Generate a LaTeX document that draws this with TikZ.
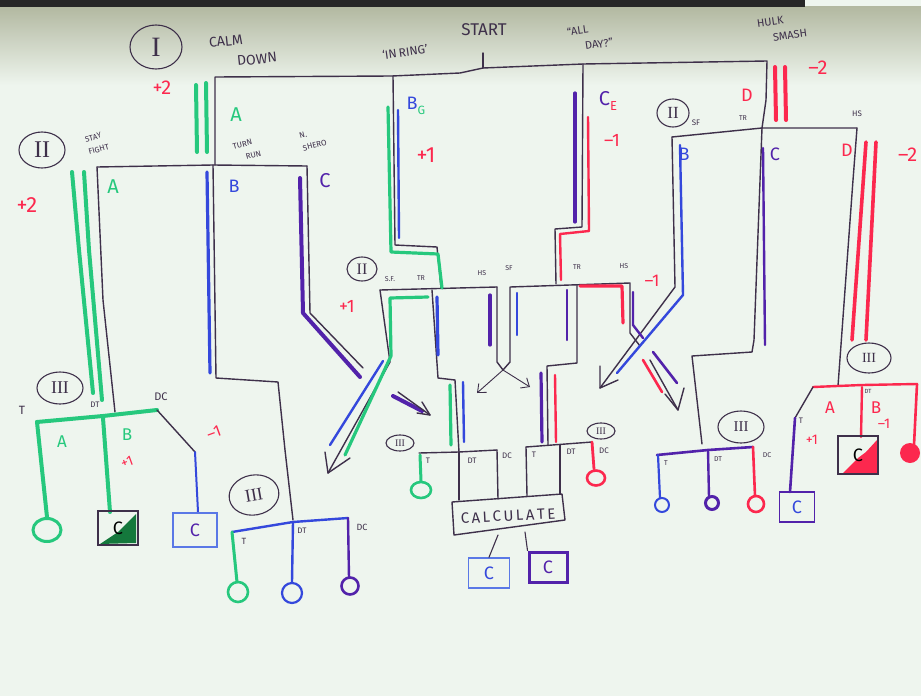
\documentclass[tikz,border=0pt]{standalone}
\usepackage{fontspec}
\setmainfont{Fira Sans}
\newfontfamily\romfont{Liberation Serif}
\usetikzlibrary{arrows.meta,shapes.geometric}
\definecolor{board}{RGB}{238,245,238}
\definecolor{shadow}{RGB}{178,184,160}
\definecolor{ink}{RGB}{62,48,74}
\definecolor{mgreen}{RGB}{38,200,125}
\definecolor{mblue}{RGB}{52,72,220}
\definecolor{mpurple}{RGB}{82,34,170}
\definecolor{mred}{RGB}{252,40,78}
\definecolor{dgreen}{RGB}{20,120,60}
\definecolor{lblue}{RGB}{90,120,230}
\tikzset{
  inkl/.style={draw=ink,line width=1.4pt,line join=round,line cap=round},
  thinarrow/.style={draw=ink,line width=0.9pt,-{Straight Barb[length=7pt,width=12pt]}},
  mk/.style={line width=3.2pt,line cap=round,line join=round},
  gl/.style={mk,draw=mgreen}, bl/.style={mk,draw=mblue},
  pl/.style={mk,draw=mpurple}, rl/.style={mk,draw=mred},
  fs/.style={inner sep=0pt,font=\fontsize{#1}{#1}\selectfont},
  two/.style={inner sep=0pt,align=left,text=ink},
  roman/.style={draw=ink,line width=1.1pt,ellipse,inner sep=0pt,text=ink},
  cbox/.style={line width=1.6pt,minimum width=38pt,minimum height=34pt,inner sep=0pt,font=\fontsize{18}{18}\selectfont}
}
\begin{document}
\begin{tikzpicture}[x=1pt,y=-1pt]
\useasboundingbox (0,0) rectangle (921,696);
\fill[board] (0,0) rectangle (921,696);
\shade[top color=shadow, bottom color=board] (0,6) rectangle (921,85);
\fill[black!85] (0,0) rectangle (805,7);

% ================= LEVEL I (ink) =================
\draw[inkl] (215,165) -- (215,77) -- (392,76) -- (460,73) -- (483,68) -- (583,64) -- (767,61) -- (766,100) -- (762,128);
\draw[inkl] (483,68) -- (483,53);
\draw[inkl] (393,76) -- (395,245) -- (437,247) -- (441,288);
\draw[inkl] (583,64) -- (582,227) -- (555,229) -- (556,284);

% ================= LEVEL II left (ink) =================
\draw[inkl] (97,167) -- (213,165) -- (307,166);
\draw[inkl] (97,167) -- (103,300) -- (115,412);
\draw[inkl] (213,165) -- (216,378) -- (278,382) -- (285,450) -- (293,520);
\draw[inkl] (307,166) -- (310,313) -- (363,368);

% ================= LEVEL II centre (ink) =================
\draw[inkl] (380,290) -- (497,287);
\draw[inkl] (380,290) -- (390,362) -- (328,473);
\draw[inkl] (350,458) -- (328,473) -- (325,452);
\draw[inkl] (432,290) -- (438,378) -- (455,380) -- (459,452);
\draw[inkl] (497,287) -- (497,362) -- (503,370) -- (510,362) -- (510,287) -- (630,283) -- (630,333) -- (640,346);
\draw[inkl] (577,285) -- (577,363) -- (547,366) -- (548,445);
\coordinate (vtip) at (503,370);
\coordinate (vl) at (477,393);
\coordinate (vr) at (530,387);
\draw[thinarrow] (vtip) -- (vl);
\draw[thinarrow] (vtip) -- (vr);

% ================= LEVEL II right (ink) =================
\draw[inkl] (672,137) -- (762,128) -- (857,128);
\draw[inkl] (672,137) -- (675,287) -- (600,388);
\draw[inkl] (600,366) -- (600,388) -- (618,380);
\draw[inkl] (762,128) -- (754,340) -- (752,352) -- (692,356) -- (702,444);
\draw[inkl] (857,128) -- (853,180) -- (838,386);
\draw[inkl] (650,360) -- (678,410);
\draw[inkl] (665,394) -- (678,410) -- (684,388);

% ================= colour marks, level I =================
\draw[gl,line width=4pt] (196,85) -- (197,152);
\draw[gl,line width=4pt] (206,83) -- (207,152);
\draw[gl] (388,107) -- (391,252) -- (438,254) -- (442,288);
\draw[bl,line width=2.4pt] (398,110) -- (399,238);
\draw[pl] (575,93) -- (575,222);
\draw[rl,line width=2.4pt] (588,117) -- (589,231) -- (560,234) -- (561,280);
\draw[rl,line width=4pt] (775,67) -- (776,120);
\draw[rl,line width=4pt] (785,67) -- (786,120);

% ================= colour marks, level II left =================
\draw[gl,line width=4pt] (72,172) -- (79,250) -- (93,393);
\draw[gl,line width=4pt] (84,172) -- (89,250) -- (102,400);
\draw[bl] (207,172) -- (210,373);
\draw[pl,line width=4pt] (300,178) -- (303,313) -- (360,377);

% ================= colour marks, centre =================
\draw[gl] (428,297) -- (390,298) -- (391,356) -- (345,455);
\draw[bl,line width=2.4pt] (383,361) -- (330,445);
\draw[bl] (437,297) -- (438,355);
\draw[gl] (450,385) -- (451,445);
\draw[bl,line width=2.4pt] (463,382) -- (464,442);
\draw[pl] (490,295) -- (490,345);
\draw[bl,line width=2.4pt] (517,293) -- (517,335);
\draw[pl,line width=2.4pt] (567,290) -- (567,340);
\draw[rl] (580,286) -- (622,286) -- (623,323);
\draw[pl,line width=2.4pt] (633,292) -- (633,325) -- (643,338);
\draw[pl] (541,373) -- (542,442);
\draw[rl,line width=2.4pt] (555,375) -- (556,442);
% small dark arrow
\draw[pl,line width=4pt] (393,396) -- (422,411);
\draw[inkl] (398,392) -- (430,415);
\draw[inkl] (422,402) -- (430,415) -- (417,413);

% ================= colour marks, level II right =================
\draw[bl,line width=2.4pt] (680,145) -- (683,295) -- (617,373);
\draw[pl,line width=2.4pt] (763,148) -- (765,345);
\draw[rl,line width=3.6pt] (866,142) -- (852,340);
\draw[rl,line width=3.6pt] (876,142) -- (866,340);
\draw[rl,line width=2.6pt] (643,360) -- (662,392);
\draw[pl,line width=2.6pt] (653,352) -- (677,383);

% ================= LEVEL III far left =================
\draw[gl,line width=4pt] (37,422) -- (103,416) -- (157,410);
\draw[inkl] (157,410) -- (195,452);
\draw[gl,line width=4pt] (37,422) -- (47,517);
\draw[gl,line width=4pt] (103,418) -- (110,512);
\draw[bl,line width=2pt] (195,452) -- (198,512);
\node[draw=mgreen,line width=3pt,ellipse,minimum width=28pt,minimum height=23pt] (c1) at (47,530) {};
\fill[dgreen] (136,514) -- (136,543) -- (100,544) -- (118,532) -- cycle;
\node[cbox,draw=ink,minimum width=40pt,minimum height=34pt] (sq1) at (118,528) {C};
\node[cbox,draw=lblue,minimum width=44pt,minimum height=34pt] (sq2) at (195,530) {\textcolor{mpurple}{C}};

% ================= LEVEL III middle-left =================
\draw[bl,line width=2.4pt] (232,532) -- (293,522) -- (348,518);
\draw[gl,line width=3pt] (232,532) -- (237,582);
\draw[bl,line width=2.4pt] (293,522) -- (292,582);
\draw[pl,line width=2.4pt] (348,518) -- (349,578);
\node[draw=mgreen,line width=2.6pt,circle,minimum size=20pt,inner sep=0pt] (c2) at (238,592) {};
\node[draw=mblue,line width=2.2pt,circle,minimum size=20pt,inner sep=0pt] (c3) at (292,593) {};
\node[draw=mpurple,line width=2.6pt,circle,minimum size=17pt,inner sep=0pt] (c4) at (350,586) {};

% ================= LEVEL III centre-left / centre-right =================
\draw[inkl] (419,453) -- (459,452) -- (497,450);
\draw[gl,line width=3pt] (420,455) -- (421,481);
\draw[inkl] (459,452) -- (459,500);
\draw[inkl] (497,450) -- (498,499);
\node[draw=mgreen,line width=2.6pt,ellipse,minimum width=20pt,minimum height=16pt,inner sep=0pt] (c5) at (421,490) {};
\draw[inkl] (526,447) -- (592,442);
\draw[inkl] (526,447) -- (527,496);
\draw[inkl] (560,445) -- (560,494);
\draw[rl,line width=2.8pt] (592,442) -- (594,469);
\node[draw=mred,line width=2.6pt,ellipse,minimum width=18pt,minimum height=15pt,inner sep=0pt] (c6) at (596,478) {};
\draw[inkl] (452,502) -- (562,494) -- (565,520) -- (454,535) -- cycle;
\node[fs=15,text=ink,rotate=3] (calc) at (508,516) {C\,A\,L\,C\,U\,L\,A\,T\,E};
\node[cbox,draw=lblue,line width=1.4pt,minimum width=41pt,minimum height=30pt] (sq3) at (489,573) {\textcolor{mblue}{C}};
\node[cbox,draw=mpurple,line width=3pt,minimum width=38pt,minimum height=30pt] (sq4) at (548,567) {\textcolor{mpurple}{C}};
\draw[inkl,line width=1.1pt] (498,535) -- (sq3.north);
\draw[inkl,line width=1.1pt] (525,532) -- (sq4.north west);

% ================= LEVEL III right =================
\draw[pl,line width=2.6pt] (657,455) -- (708,450) -- (753,447);
\draw[bl,line width=2.2pt] (658,455) -- (660,498);
\draw[pl,line width=2.4pt] (708,450) -- (709,497);
\draw[rl,line width=2.6pt] (753,447) -- (755,496);
\node[draw=mblue,line width=2pt,circle,minimum size=14pt,inner sep=0pt] (c7) at (662,505) {};
\node[draw=mpurple,line width=3pt,circle,minimum size=13pt,inner sep=0pt] (c8) at (712,503) {};
\node[draw=mred,line width=2.6pt,circle,minimum size=16pt,inner sep=0pt] (c9) at (756,504) {};

% ================= LEVEL III far right =================
\draw[rl,line width=2.4pt] (813,387) -- (862,385) -- (917,384);
\draw[inkl] (813,387) -- (795,418);
\draw[pl,line width=2.6pt] (795,418) -- (790,492);
\draw[rl,line width=2.4pt] (862,387) -- (861,437);
\draw[rl,line width=2.6pt] (917,384) -- (914,445);
\node[fill=mred,circle,minimum size=20pt,inner sep=0pt] (c10) at (910,453) {};
\node[cbox,draw=mpurple,minimum width=35pt,minimum height=30pt] (sq5) at (797,507) {\textcolor{mblue}{C}};
\fill[mred] (877,440) -- (877,473) -- (843,473) -- (858,458) -- (866,452) -- cycle;
\node[cbox,draw=ink,minimum width=40pt,minimum height=38pt] (sq6) at (858,455) {C};

% ================= roman numerals =================
\node[roman,minimum width=52pt,minimum height=44pt] (r1) at (156,47) {\romfont\fontsize{28}{28}\selectfont I};
\node[roman,minimum width=46pt,minimum height=36pt] (r2a) at (42,150) {\romfont\fontsize{24}{24}\selectfont II};
\node[roman,minimum width=30pt,minimum height=24pt] (r2b) at (362,269) {\romfont\fontsize{16}{16}\selectfont II};
\node[roman,minimum width=32pt,minimum height=28pt] (r2c) at (673,113) {\romfont\fontsize{17}{17}\selectfont II};
\node[roman,minimum width=46pt,minimum height=32pt] (r3a) at (60,388) {\romfont\fontsize{18}{18}\selectfont III};
\node[roman,minimum width=50pt,minimum height=40pt,rotate=10] (r3b) at (254,495) {\romfont\fontsize{18}{18}\selectfont III};
\node[roman,minimum width=28pt,minimum height=16pt] (r3c) at (400,443) {\romfont\fontsize{10}{10}\selectfont III};
\node[roman,minimum width=28pt,minimum height=16pt] (r3d) at (601,431) {\romfont\fontsize{10}{10}\selectfont III};
\node[roman,minimum width=46pt,minimum height=32pt] (r3e) at (741,427) {\romfont\fontsize{15}{15}\selectfont III};
\node[roman,minimum width=44pt,minimum height=30pt] (r3f) at (869,358) {\romfont\fontsize{14}{14}\selectfont III};

% ================= titles and labels =================
\node[two,font=\fontsize{14}{21}\selectfont,rotate=6] (calm) at (243,50) {CALM\\\hspace*{26pt}DOWN};
\node[fs=20,text=mred] (p2a) at (162,88) {+2};
\node[fs=12,text=ink,rotate=8] (inring) at (405,52) {‘IN\,RING’};
\node[fs=17,text=ink] (start) at (484,30) {START};
\node[two,font=\fontsize{11}{16}\selectfont,rotate=8] (allday) at (590,37) {“ALL\\\hspace*{16pt}DAY?”};
\node[two,font=\fontsize{11}{16}\selectfont,rotate=8] (hulk) at (782,28) {HULK\\\hspace*{14pt}SMASH};

\node[fs=20,text=mgreen] (la1) at (236,115) {A};
\node[two,font=\fontsize{8}{13}\selectfont,rotate=15] (turn) at (247,150) {TURN\\\hspace*{10pt}RUN};
\node[two,font=\fontsize{8}{13}\selectfont,rotate=15] (nshero) at (313,139) {N.\\SHERO};
\node[fs=18,inner sep=0pt] (lb1) at (416,106) {\textcolor{mblue}{B}\textcolor{mgreen}{\fontsize{12}{12}\selectfont\raisebox{-5pt}{G}}};
\node[fs=22,text=mred] (p1a) at (426,155) {+1};
\node[fs=20,inner sep=0pt] (lc1) at (608,101) {\textcolor{mpurple}{C}\textcolor{mred}{\fontsize{13}{13}\selectfont\raisebox{-5pt}{E}}};
\node[fs=18,text=mred] (m1a) at (612,140) {–1};
\node[fs=18,text=mred] (ld1) at (747,95) {D};
\node[fs=20,text=mred] (m2a) at (818,68) {–2};

\node[two,font=\fontsize{8}{13}\selectfont,rotate=15] (stayfight) at (97,143) {STAY\\FIGHT};
\node[fs=20,text=mgreen] (la2) at (113,187) {A};
\node[fs=22,text=mred] (p2b) at (27,205) {+2};
\node[fs=18,text=mblue] (lb2) at (234,186) {B};
\node[fs=20,text=mpurple] (lc2) at (325,181) {C};
\node[fs=18,text=mred] (p1b) at (347,306) {+1};

\node[fs=7,text=ink] at (390,279) {S.F.};
\node[fs=7,text=ink] at (421,278) {TR};
\node[fs=7,text=ink] at (482,273) {HS};
\node[fs=7,text=ink] at (509,268) {SF};
\node[fs=7,text=ink] at (577,267) {TR};
\node[fs=7,text=ink] at (624,266) {HS};
\node[fs=17,text=mred] (m1b) at (652,281) {–1};

\node[fs=8,text=ink] at (696,123) {SF};
\node[fs=7,text=ink] at (743,118) {TR};
\node[fs=8,text=ink] at (857,114) {HS};
\node[fs=18,text=mblue] (lb3) at (684,154) {B};
\node[fs=18,text=mpurple] (lc3) at (775,154) {C};
\node[fs=18,text=mred] (ld3) at (847,150) {D};
\node[fs=20,text=mred,anchor=west] (m2b) at (898,155) {–2};

\node[fs=12,text=ink] at (22,410) {T};
\node[fs=8,text=ink] at (95,405) {DT};
\node[fs=11,text=ink] at (161,397) {DC};
\node[fs=17,text=mgreen] at (62,442) {A};
\node[fs=17,text=mgreen] at (127,435) {B};
\node[fs=14,text=mred,rotate=20] at (127,462) {+1};
\node[fs=16,text=mred,rotate=20] at (214,433) {–1};

\node[fs=9,text=ink] at (244,541) {T};
\node[fs=8,text=ink] at (302,531) {DT};
\node[fs=9,text=ink] at (362,527) {DC};

\node[fs=8,text=ink] at (428,461) {T};
\node[fs=8,text=ink] at (472,461) {DT};
\node[fs=8,text=ink] at (507,456) {DC};
\node[fs=8,text=ink] at (534,455) {T};
\node[fs=8,text=ink] at (571,452) {DT};
\node[fs=8,text=ink] at (604,451) {DC};

\node[fs=7,text=ink] at (666,463) {T};
\node[fs=7,text=ink] at (718,459) {DT};
\node[fs=7,text=ink] at (767,455) {DC};

\node[fs=8,text=ink] at (801,421) {T};
\node[fs=6,text=ink] at (868,391) {DT};
\node[fs=17,text=mred] at (830,408) {A};
\node[fs=17,text=mred] at (876,408) {B};
\node[fs=14,text=mred] at (812,440) {+1};
\node[fs=14,text=mred] at (884,424) {–1};
\end{tikzpicture}
\end{document}
